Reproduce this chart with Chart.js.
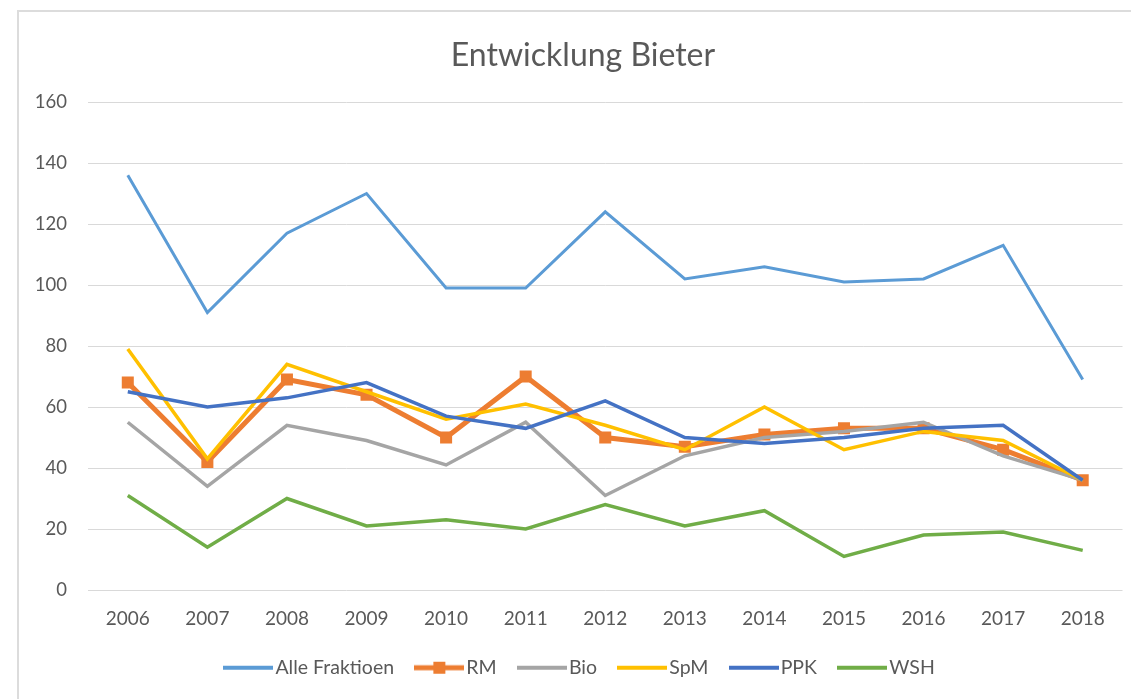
<!DOCTYPE html>
<html>
<head>
<meta charset="utf-8">
<script src="https://cdn.jsdelivr.net/npm/chart.js@4/dist/chart.umd.min.js"></script>
<style>
  html, body { margin: 0; padding: 0; background: #fff; }
  #wrap { position: relative; width: 1131px; height: 699px; overflow: hidden; }
  #frame { position: absolute; left: 17px; top: 10px; width: 1200px; height: 800px; border: 2px solid #dcdcdc; box-sizing: border-box; }
  canvas { position: absolute; left: 0; top: 0; }
</style>
</head>
<body>
<div id="wrap">
  <div id="frame"></div>
  <canvas id="c" width="1131" height="699"></canvas>
</div>
<script>
const years = ['2006','2007','2008','2009','2010','2011','2012','2013','2014','2015','2016','2017','2018'];
const alleFraktioen = [136, 91, 117, 130, 99, 99, 124, 102, 106, 101, 102, 113, 69];
const rm  = [68, 42, 69, 64, 50, 70, 50, 47, 51, 53, 53, 46, 36];
const bio = [55, 34, 54, 49, 41, 55, 31, 44, 50, 52, 55, 44, 36];
const spm = [79, 43, 74, 65, 56, 61, 54, 46, 60, 46, 52, 49, 36];
const ppk = [65, 60, 63, 68, 57, 53, 62, 50, 48, 50, 53, 54, 36];
const wsh = [31, 14, 30, 21, 23, 20, 28, 21, 26, 11, 18, 19, 13];
const yTicks = [0, 20, 40, 60, 80, 100, 120, 140, 160];
const seriesNames = ['Alle Fraktioen', 'RM', 'Bio', 'SpM', 'PPK', 'WSH'];

const colors = ['#5B9BD5', '#ED7D31', '#A5A5A5', '#FFC000', '#4472C4', '#70AD47'];
const widths = [3, 5, 3.5, 3.5, 3.5, 3.5];
const FONT = 'Lato, "Open Sans", sans-serif';
const TXT = '#595959';

function legendImg(color, lw, marker) {
  const cv = document.createElement('canvas');
  cv.width = 50; cv.height = 14;
  const g = cv.getContext('2d');
  g.strokeStyle = color; g.lineWidth = lw;
  g.beginPath(); g.moveTo(0, 7); g.lineTo(50, 7); g.stroke();
  if (marker) { g.fillStyle = color; g.fillRect(19, 1, 12, 12); }
  return cv;
}

const allData = [alleFraktioen, rm, bio, spm, ppk, wsh];
const datasets = allData.map((d, i) => ({
  label: seriesNames[i],
  data: d,
  borderColor: colors[i],
  backgroundColor: colors[i],
  borderWidth: widths[i],
  tension: 0,
  fill: false,
  pointStyle: i === 1 ? 'rect' : 'circle',
  pointRadius: i === 1 ? 8.5 : 0,
  pointBorderWidth: 0,
  pointBackgroundColor: colors[i],
  order: 5 - i
}));

// centre title and legend within the outer chart frame (starts at x=40)
const frameCentering = {
  id: 'frameCentering',
  beforeDraw(chart) {
    chart.titleBlock.left = 40;
    chart.legend.left = 40;
  }
};

new Chart(document.getElementById('c'), {
  type: 'line',
  data: { labels: years, datasets },
  plugins: [frameCentering],
  options: {
    responsive: false,
    animation: false,
    devicePixelRatio: 1,
    layout: { padding: { left: 0, right: 5, top: 0, bottom: 11.5 } },
    plugins: {
      tooltip: { enabled: false },
      title: {
        display: true,
        text: 'Entwicklung Bieter',
        color: TXT,
        font: { family: FONT, size: 32, weight: 'normal' },
        padding: { top: 36, bottom: 27.6 }
      },
      legend: {
        position: 'bottom',
        labels: {
          usePointStyle: true,
          pointStyleWidth: 34.5,
          boxHeight: 14,
          padding: 28,
          color: TXT,
          font: { family: FONT, size: 19.5 },
          generateLabels: (chart) => chart.data.datasets.map((ds, i) => ({
            text: ds.label,
            pointStyle: legendImg(colors[i], i === 1 ? 5 : 4, i === 1),
            fillStyle: colors[i],
            strokeStyle: colors[i],
            lineWidth: 0,
            hidden: false,
            datasetIndex: i,
            fontColor: TXT
          }))
        }
      }
    },
    scales: {
      x: {
        offset: true,
        grid: { display: false, drawTicks: false, offset: true },
        border: { display: false },
        ticks: { color: TXT, font: { family: FONT, size: 19 }, padding: 17, maxRotation: 0 },
        afterFit: (s) => { s.height = 40; }
      },
      y: {
        min: 0, max: 160,
        afterBuildTicks: (s) => { s.ticks = yTicks.map(v => ({ value: v })); },
        grid: { color: '#d9d9d9', lineWidth: 1, drawTicks: false },
        border: { display: false },
        ticks: { color: TXT, font: { family: FONT, size: 18.5 }, padding: 21 },
        afterFit: (s) => { s.width = 88; }
      }
    }
  }
});
</script>
</body>
</html>
